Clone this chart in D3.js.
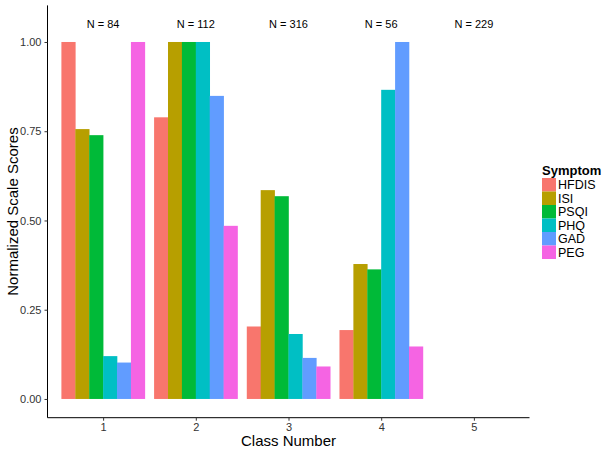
<!DOCTYPE html>
<html><head><meta charset="utf-8">
<script src="https://cdn.jsdelivr.net/npm/d3@7"></script>
<style>body{margin:0;background:#fff}svg{display:block;font-family:"Liberation Sans",Arial,sans-serif}</style>
</head><body><svg id="c" width="612" height="452"></svg>
<script>
const classes = ["1","2","3","4","5"];
const nLabels = ["N = 84","N = 112","N = 316","N = 56","N = 229"];
const symptoms = ["HFDIS","ISI","PSQI","PHQ","GAD","PEG"];
const colors = ["#F8766D","#B79F00","#00BA38","#00BFC4","#619CFF","#F564E3"];
const HFDIS = [1.00, 0.789, 0.203, 0.193, 0];
const ISI   = [0.756, 1.00, 0.585, 0.378, 0];
const PSQI  = [0.739, 1.00, 0.568, 0.363, 0];
const PHQ   = [0.120, 1.00, 0.182, 0.866, 0];
const GAD   = [0.102, 0.849, 0.115, 1.00, 0];
const PEG   = [1.00, 0.485, 0.091, 0.147, 0];
const yTicks = [0, 0.25, 0.5, 0.75, 1.0];
const series = [HFDIS, ISI, PSQI, PHQ, GAD, PEG];

const svg = d3.select("#c");
const L = 47.5, R = 529.5, T = 5.4, B = 417.7;
const y = d3.scaleLinear().domain([-0.0525, 1.1025]).range([B, T]);
const xIdx = d3.scaleLinear().domain([0.4, 5.6]).range([L, R]);
const unit = xIdx(2) - xIdx(1);
const barW = unit * 0.9 / 6;

const data = [];
classes.forEach((c, i) => symptoms.forEach((s, j) => data.push({c, i, j, v: series[j][i]})));

svg.append("g").selectAll("rect").data(data.filter(d => d.v > 0)).join("rect")
  .attr("x", d => xIdx(d.i + 1) - unit * 0.45 + d.j * barW)
  .attr("width", barW + 0.3)
  .attr("y", d => y(d.v))
  .attr("height", d => y(0) - y(d.v))
  .attr("fill", d => colors[d.j]);

// N labels
svg.append("g").selectAll("text").data(nLabels).join("text")
  .attr("x", (d, i) => xIdx(i + 1)).attr("y", y(1.05) + 4)
  .attr("text-anchor", "middle").attr("font-size", 11).attr("fill", "#000").text(d => d);

// axes
const yAxis = d3.axisLeft(y).tickValues(yTicks).tickFormat(d3.format(".2f")).tickSize(3).tickPadding(3);
const gy = svg.append("g").attr("transform", `translate(${L},0)`).call(yAxis);
gy.select(".domain").attr("d", `M0,${T}V${B}`).attr("stroke", "#000");
gy.selectAll("line").attr("stroke", "#333");
gy.selectAll("text").attr("font-size", 11).attr("fill", "#333").attr("font-family", "Liberation Sans, Arial, sans-serif");

const xBand = d3.scalePoint().domain(classes).range([xIdx(1), xIdx(5)]);
const xAxis = d3.axisBottom(xBand).tickSize(3).tickPadding(3);
const gx = svg.append("g").attr("transform", `translate(0,${B})`).call(xAxis);
gx.select(".domain").attr("d", `M${L},0H${R}`).attr("stroke", "#000");
gx.selectAll("line").attr("stroke", "#333");
gx.selectAll("text").attr("font-size", 11).attr("fill", "#333").attr("font-family", "Liberation Sans, Arial, sans-serif");

// titles
svg.append("text").attr("x", (L + R) / 2).attr("y", 446).attr("text-anchor", "middle")
  .attr("font-size", 15).text("Class Number");
svg.append("text").attr("transform", `translate(18,${(T + B) / 2}) rotate(-90)`).attr("text-anchor", "middle")
  .attr("font-size", 15).text("Normalized Scale Scores");

// legend
const lg = svg.append("g");
lg.append("text").attr("x", 542).attr("y", 175).attr("font-size", 13).attr("font-weight", "bold").text("Symptom");
const keyH = 13.5;
symptoms.forEach((s, j) => {
  lg.append("rect").attr("x", 542).attr("y", 178 + j * keyH).attr("width", 14).attr("height", keyH).attr("fill", colors[j]);
  lg.append("text").attr("x", 558).attr("y", 178 + j * keyH + keyH / 2 + 4.5).attr("font-size", 12.5).text(s);
});
</script></body></html>
